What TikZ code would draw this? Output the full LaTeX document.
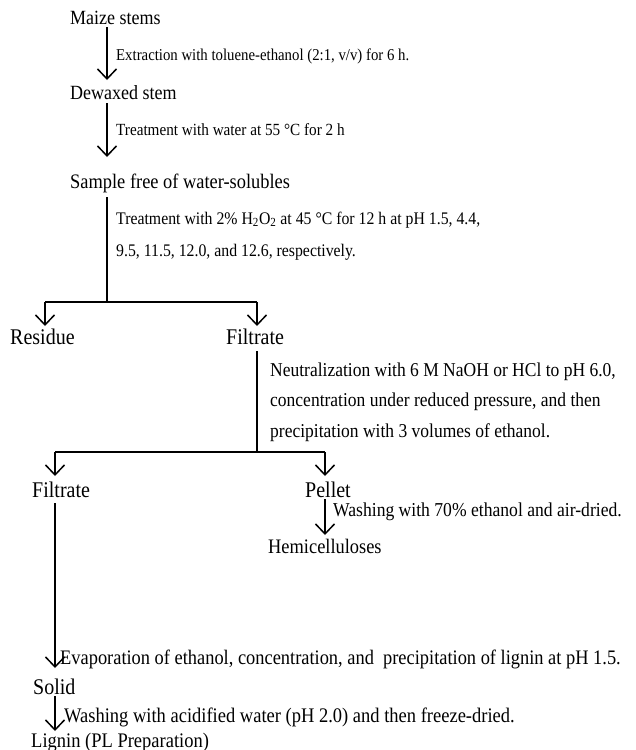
\documentclass[tikz,border=0pt]{standalone}
\usepackage{fontspec}
\usepackage{graphicx}
\setmainfont{Liberation Serif}
\usetikzlibrary{arrows.meta,calc}
\newcommand{\txt}[2]{{\fontsize{#1}{#1}\selectfont\scalebox{1}[1.12]{#2}}}
\tikzset{
  lbl/.style={anchor=base west,inner sep=0pt},
  note/.style={anchor=base west,inner sep=0pt},
  conn/.style={line width=1.3pt},
  arr/.style={line width=1.3pt,-{Straight Barb[length=10pt,width=19pt,line width=1.5pt]}}
}
\begin{document}
\begin{tikzpicture}[x=1pt,y=-1pt]
\useasboundingbox (0,0) rectangle (636,750);
% nodes
\node[lbl] (maize) at (70,24) {\txt{18}{Maize stems}};
\node[note] (n1) at (116,60) {\txt{14.8}{Extraction with toluene-ethanol (2:1, v/v) for 6 h.}};
\node[lbl] (dewax) at (70,99) {\txt{18}{Dewaxed stem}};
\node[note] (n2) at (116,135) {\txt{15.2}{Treatment with water at 55 °C for 2 h}};
\node[lbl] (sample) at (70,188) {\txt{18.4}{Sample free of water-solubles}};
\node[note] (n3a) at (116,224) {\txt{15.8}{Treatment with 2\% H\textsubscript{2}O\textsubscript{2} at 45 °C for 12 h at pH 1.5, 4.4,}};
\node[note] (n3b) at (116,256) {\txt{15.8}{9.5, 11.5, 12.0, and 12.6, respectively.}};
\node[lbl] (residue) at (10,344) {\txt{20}{Residue}};
\node[lbl] (filt1) at (226,344) {\txt{20}{Filtrate}};
\node[note] (n4a) at (270,376) {\txt{17.5}{Neutralization with 6 M NaOH or HCl to pH 6.0,}};
\node[note] (n4b) at (270,406) {\txt{17.5}{concentration under reduced pressure, and then}};
\node[note] (n4c) at (270,437) {\txt{17.5}{precipitation with 3 volumes of ethanol.}};
\node[lbl] (filt2) at (32,497) {\txt{20}{Filtrate}};
\node[lbl] (pellet) at (305,497) {\txt{20}{Pellet}};
\node[note] (n5) at (333,516) {\txt{17.6}{Washing with 70\% ethanol and air-dried.}};
\node[lbl] (hemi) at (268,553) {\txt{18.4}{Hemicelluloses}};
\node[note] (n6) at (60,664) {\txt{18.4}{Evaporation of ethanol, concentration, and\ \ precipitation of lignin at pH 1.5.}};
\node[lbl] (solid) at (33,694) {\txt{20}{Solid}};
\node[note] (n7) at (64,722) {\txt{18.5}{Washing with acidified water (pH 2.0) and then freeze-dried.}};
\node[lbl] (lignin) at (31,747) {\txt{18.5}{Lignin (PL Preparation)}};
% spine coordinates
\coordinate (s1) at (107,0);
\coordinate (b1L) at (45,302);
\coordinate (b1R) at (257,302);
\coordinate (b2L) at (55,452);
\coordinate (b2R) at (325,452);
% connectors
\draw[arr] ([yshift=-3pt]maize.base -| s1) -- ([yshift=19pt]dewax.base -| s1);
\draw[arr] ([yshift=-4pt]dewax.base -| s1) -- ([yshift=31pt]sample.base -| s1);
\draw[conn] ([yshift=-9pt]sample.base -| s1) -- (b1L -| s1);
\draw[conn] (b1L) -- (b1R);
\draw[arr] (b1L) -- ([yshift=18pt]residue.base -| b1L);
\draw[arr] (b1R) -- ([yshift=18pt]filt1.base -| b1R);
\draw[conn] ([yshift=-7pt]filt1.base -| b1R) -- (b2L -| b1R);
\draw[conn] (b2L) -- (b2R);
\draw[arr] (b2L) -- ([yshift=21pt]filt2.base -| b2L);
\draw[arr] (b2R) -- ([yshift=21pt]pellet.base -| b2R);
\draw[arr] ([yshift=-2pt]pellet.base -| b2R) -- ([yshift=18pt]hemi.base -| b2R);
\draw[arr] ([yshift=-6pt]filt2.base -| b2L) -- ([yshift=26pt]solid.base -| b2L);
\draw[arr] ([yshift=-2pt]solid.base -| b2L) -- ([yshift=16pt]lignin.base -| b2L);
\end{tikzpicture}
\end{document}
